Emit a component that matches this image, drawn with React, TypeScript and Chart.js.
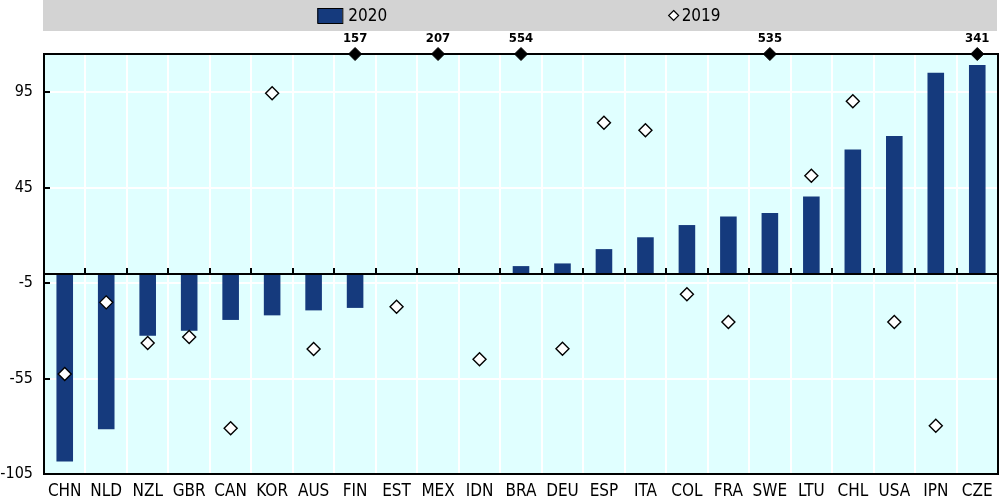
import React, { useEffect, useRef } from 'react';
import { Chart, registerables } from 'chart.js';

Chart.register(...registerables);

const categories = ['CHN', 'NLD', 'NZL', 'GBR', 'CAN', 'KOR', 'AUS', 'FIN', 'EST', 'MEX', 'IDN', 'BRA', 'DEU', 'ESP', 'ITA', 'COL', 'FRA', 'SWE', 'LTU', 'CHL', 'USA', 'JPN', 'CZE'];
const values2020: (number | null)[] = [-98.5, -81.6, -32.6, -30, -24.3, -21.9, -19.3, -18, null, null, null, 3.9, 5.3, 12.8, 19, 25.4, 29.9, 31.7, 40.4, 65, 72, 105.2, 109.2];
const values2019: (number | null)[] = [-52.6, -15.1, -36.4, -33.2, -81, 94.5, -39.5, 157, -17.4, 207, -44.9, 554, -39.4, 79, 75.1, -10.9, -25.4, 535, 51.2, 90.2, -25.4, -79.7, 341];
const yTicks = [-105, -55, -5, 45, 95];
const yMin = -105;
const yMax = 115;
const seriesLabels = ['2020', '2019'];

const FONT = "'Liberation Sans Narrow', 'Arial Narrow', 'DejaVu Sans Condensed', sans-serif";
const BAR_COLOR = '#153a7d';
const BG = '#e0ffff';
const BAND = '#d3d3d3';

const overflow2019 = values2019.map((v) => (v !== null && v > yMax ? yMax : null));

const chartPlugin = {
  id: 'oecdDecor',
  beforeDraw(chart: any) {
    const { ctx, chartArea } = chart;
    const { left, right, top, bottom } = chartArea;
    ctx.save();
    // legend band
    ctx.fillStyle = BAND;
    ctx.fillRect(left - 1, 0, right - left, 31);
    // plot background
    ctx.fillStyle = BG;
    ctx.fillRect(left, top, right - left, bottom - top);
    // legend items
    const w = right - left;
    const y = 15.5;
    ctx.font = `17px ${FONT}`;
    ctx.textBaseline = 'middle';
    ctx.textAlign = 'left';
    const b1 = left + 0.2865 * w;
    ctx.fillStyle = BAR_COLOR;
    ctx.fillRect(b1, 8, 25, 15);
    ctx.strokeStyle = '#000';
    ctx.lineWidth = 1;
    ctx.strokeRect(b1 + 0.5, 8.5, 25, 15);
    ctx.fillStyle = '#000';
    ctx.fillText(seriesLabels[0], b1 + 31, y + 1);
    const d2 = left + 0.66 * w;
    ctx.beginPath();
    ctx.moveTo(d2, y - 5);
    ctx.lineTo(d2 + 5, y);
    ctx.lineTo(d2, y + 5);
    ctx.lineTo(d2 - 5, y);
    ctx.closePath();
    ctx.fillStyle = '#fff';
    ctx.fill();
    ctx.lineWidth = 1.2;
    ctx.strokeStyle = '#000';
    ctx.stroke();
    ctx.fillStyle = '#000';
    ctx.fillText(seriesLabels[1], d2 + 8, y + 1);
    ctx.restore();
  },
  beforeDatasetDraw(chart: any, args: any) {
    if (args.index !== 2) return;
    const { ctx, chartArea, scales } = chart;
    const { left, right, top, bottom } = chartArea;
    const ys = scales.y;
    const xs = scales.x;
    ctx.save();
    ctx.strokeStyle = '#000';
    ctx.lineWidth = 2;
    // zero line
    const z = Math.round(ys.getPixelForValue(0));
    ctx.beginPath();
    ctx.moveTo(left, z);
    ctx.lineTo(right, z);
    ctx.stroke();
    // category ticks on zero line
    const cw = (right - left) / categories.length;
    ctx.beginPath();
    for (let i = 1; i < categories.length; i++) {
      const x = Math.round(xs.getPixelForValue(i) - cw / 2);
      ctx.moveTo(x, z);
      ctx.lineTo(x, z - 6);
    }
    ctx.stroke();
    // y ticks inward
    ctx.beginPath();
    yTicks.forEach((v) => {
      const yy = Math.round(ys.getPixelForValue(v));
      ctx.moveTo(left, yy);
      ctx.lineTo(left + 6, yy);
    });
    ctx.stroke();
    // frame
    ctx.strokeRect(left, top, right - left, bottom - top);
    ctx.restore();
  },
  afterDatasetsDraw(chart: any) {
    const { ctx } = chart;
    const meta = chart.getDatasetMeta(2);
    ctx.save();
    ctx.font = `bold 13px ${FONT}`;
    ctx.fillStyle = '#000';
    ctx.textAlign = 'center';
    ctx.textBaseline = 'middle';
    meta.data.forEach((pt: any, i: number) => {
      if (overflow2019[i] === null) return;
      ctx.fillText(String(values2019[i]), pt.x, pt.y - 15);
    });
    ctx.restore();
  },
};

export default function App() {
  const ref = useRef<HTMLCanvasElement>(null);
  useEffect(() => {
    if (!ref.current) return;
    const chart = new Chart(ref.current, {
      type: 'bar',
      data: {
        labels: categories,
        datasets: [
          {
            type: 'bar',
            label: seriesLabels[0],
            data: values2020,
            backgroundColor: BAR_COLOR,
            borderWidth: 0,
            barPercentage: 0.4,
            categoryPercentage: 1,
            order: 3,
          },
          {
            type: 'line',
            label: seriesLabels[1],
            data: values2019,
            showLine: false,
            pointStyle: 'rectRot',
            pointRadius: 6.5,
            pointBackgroundColor: '#fff',
            pointBorderColor: '#000',
            pointBorderWidth: 1.4,
            order: 2,
          },
          {
            type: 'line',
            label: 'overflow',
            data: overflow2019,
            showLine: false,
            pointStyle: 'rectRot',
            pointRadius: 6.5,
            pointBackgroundColor: '#000',
            pointBorderColor: '#000',
            pointBorderWidth: 1,
            clip: false as any,
            order: 1,
          },
        ],
      } as any,
      options: {
        responsive: false,
        animation: false,
        layout: { autoPadding: false, padding: { top: 54, right: 2, left: 0, bottom: 0 } },
        plugins: {
          legend: { display: false },
          tooltip: { enabled: false },
        },
        scales: {
          x: {
            offset: true,
            grid: { color: '#fff', lineWidth: 2, drawTicks: false, offset: true },
            border: { display: false },
            ticks: {
              color: '#000',
              font: { family: FONT, size: 17 },
              padding: 7,
              autoSkip: false,
              maxRotation: 0,
            },
            afterFit(scale: any) {
              scale.height = 22;
              scale.paddingLeft = 0;
              scale.paddingRight = 0;
            },
          },
          y: {
            min: yMin,
            max: yMax,
            grid: { color: '#fff', lineWidth: 2, drawTicks: false },
            border: { display: false },
            ticks: {
              color: '#000',
              font: { family: FONT, size: 16 },
              padding: 11,
            },
            afterBuildTicks(scale: any) {
              scale.ticks = yTicks.map((v) => ({ value: v }));
            },
            afterFit(scale: any) {
              scale.width = 44;
              scale.paddingTop = 0;
              scale.paddingBottom = 0;
            },
          },
        },
      } as any,
      plugins: [chartPlugin],
    });
    return () => chart.destroy();
  }, []);
  return (
    <div style={{ position: 'absolute', left: 0, top: 0, width: 1000, height: 496 }}>
      <canvas ref={ref} width={1000} height={496} style={{ display: 'block' }} />
    </div>
  );
}
